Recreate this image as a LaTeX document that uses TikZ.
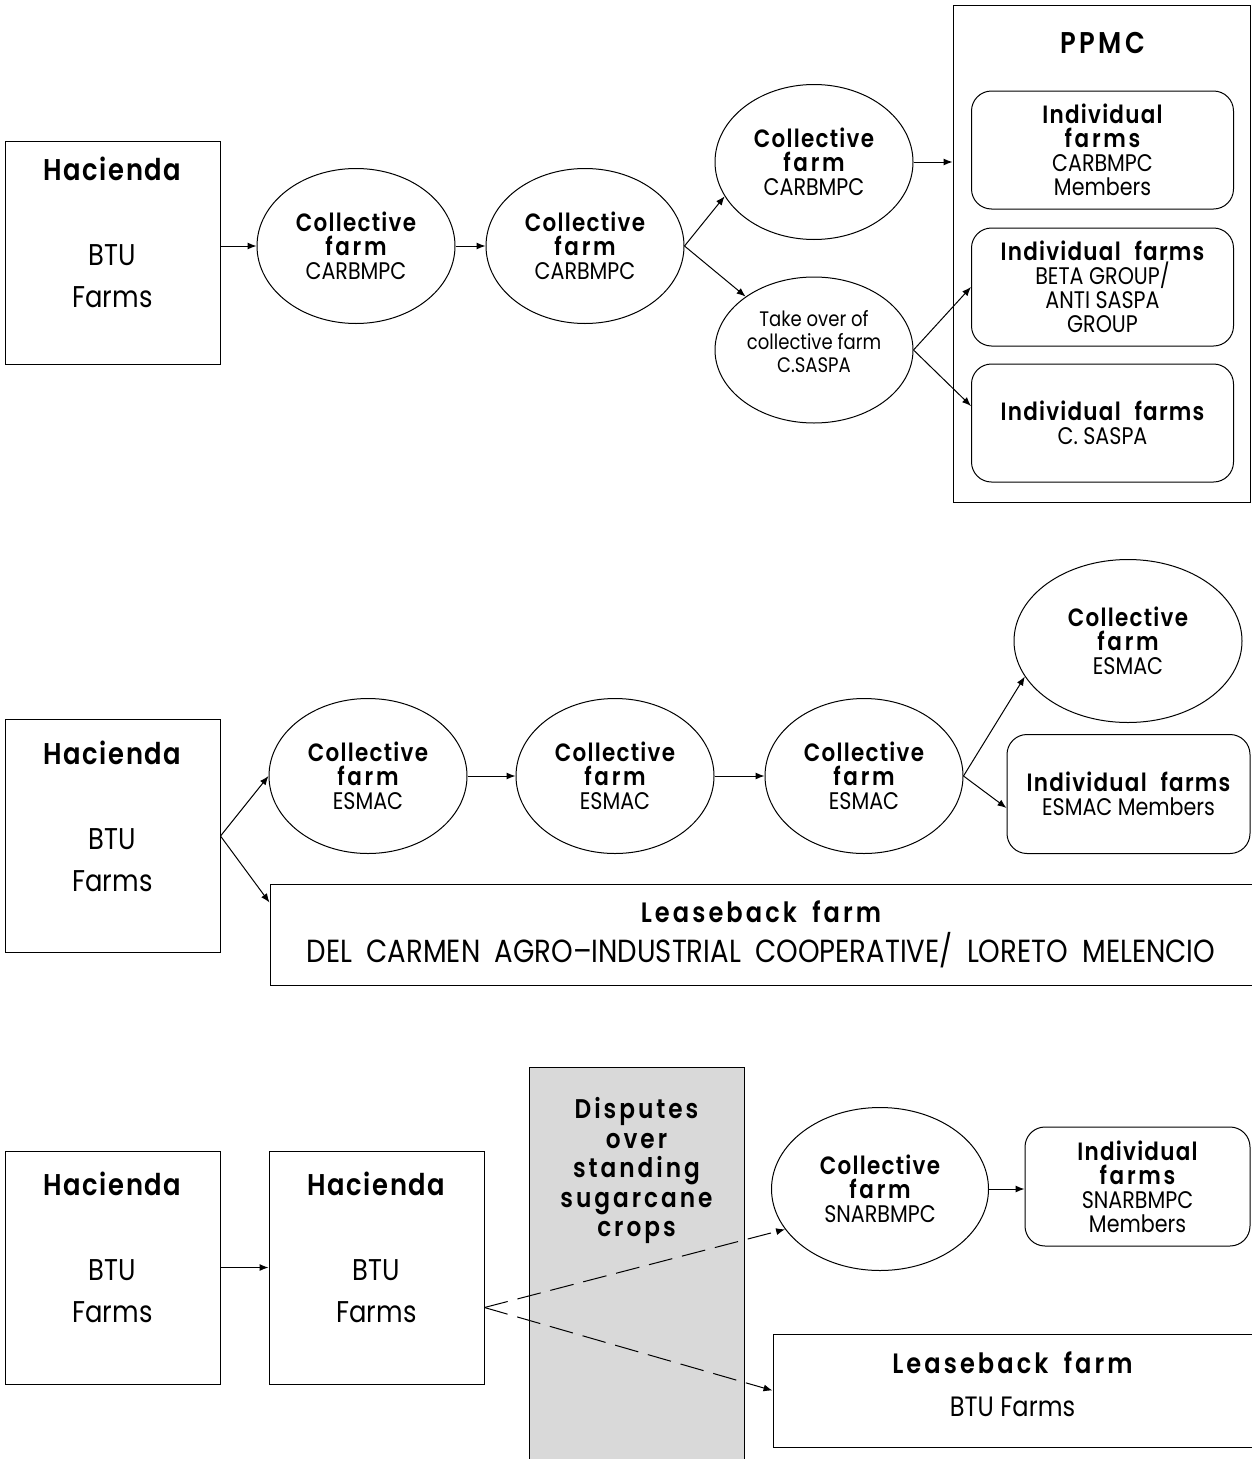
\documentclass[tikz,border=0pt]{standalone}
\usepackage{fontspec}
\setmainfont{Poppins}[FakeStretch=0.86, BoldFont={Poppins SemiBold}]
\usepackage{tikz}
\usetikzlibrary{arrows.meta, positioning, shapes.geometric}

\definecolor{disputegray}{RGB}{217,217,217}

\newcommand{\bt}[1]{{\bfseries\addfontfeature{LetterSpace=5}\spaceskip=0.55em\relax #1}}
\newcommand{\bw}[1]{{\bfseries\addfontfeature{LetterSpace=11}\spaceskip=0.55em\relax #1}}
\newcommand{\rt}[1]{{\fontsize{24}{24}\selectfont #1}}
\newcommand{\bl}[1]{{\fontsize{28}{40}\selectfont\bfseries\addfontfeature{LetterSpace=11}\spaceskip=0.55em\relax #1}}

\begin{document}
\begin{tikzpicture}[
    x=1pt, y=-1pt, line width=1pt,
    hacienda/.style={rectangle, draw=black, minimum width=215pt, minimum height=233pt, inner sep=0pt, align=center, font=\fontsize{30}{42}\selectfont},
    collective/.style={ellipse, draw=black, minimum width=198pt, minimum height=155pt, inner sep=0pt, align=center, font=\fontsize{25}{24}\selectfont},
    individual/.style={rectangle, draw=black, rounded corners=20pt, minimum width=262pt, minimum height=118pt, inner sep=0pt, align=center, font=\fontsize{25}{24}\selectfont},
    leaseback/.style={rectangle, draw=black, inner sep=0pt, align=center, font=\fontsize{32}{40}\selectfont},
    ppmcframe/.style={rectangle, draw=black, inner sep=0pt},
    dispute/.style={rectangle, draw=black, fill=disputegray, inner sep=0pt},
    arrow/.style={-{Latex[length=9pt, width=7pt]}},
    darrow/.style={-{Latex[length=9pt, width=7pt]}, dash pattern=on 24pt off 10pt},
  ]
  \useasboundingbox (0,0) rectangle (1251,1459);

  % CARBMPC
  \node[hacienda, minimum height=223pt] (h1) at (112.5,252.5) {\bt{Hacienda}\\[43pt]BTU\\Farms\\[-2pt]};
  \node[collective] (c1) at (356,246) {\bt{Collective}\\\bw{farm}\\\rt{CARBMPC}};
  \node[collective, right=30pt of c1] (c2) {\bt{Collective}\\\bw{farm}\\\rt{CARBMPC}};
  \node[collective] (c3) at (814,162) {\bt{Collective}\\\bw{farm}\\\rt{CARBMPC}};
  \node[collective, minimum height=146pt, font=\fontsize{21}{23}\selectfont] (c4) at (814,350) {Take over of\\collective farm\\C.SASPA\\[-5pt]};

  % PPMC
  \node[ppmcframe, minimum width=297pt, minimum height=497pt] (ppmc) at (1101.5,253.5) {};
  \node[font=\fontsize{30}{30}\selectfont] (ppmctitle) at (1103,43) {\bw{PPMC}};
  \node[individual] (i1) at (1102.5,150) {\bt{Individual}\\\bw{farms}\\\rt{CARBMPC}\\\rt{Members}};
  \node[individual] (i2) at (1102.5,287) {\bt{Individual farms}\\\rt{BETA GROUP/}\\\rt{ANTI SASPA}\\\rt{GROUP}};
  \node[individual] (i3) at (1102.5,423) {\bt{Individual farms}\\\rt{C. SASPA}};

  \draw[arrow] (h1.east |- c1.west) -- (c1.west);
  \draw[arrow] (c1) -- (c2);
  \draw[arrow] (c2.east) -- (c3.201);
  \draw[arrow] (c2.east) -- (c4.142);
  \draw[arrow] (c3.east) -- (c3.east -| ppmc.west);
  \draw[arrow] (c4.east) -- (i2.west);
  \draw[arrow] (c4.east) -- ([yshift=17pt]i3.west);

  % ESMAC
  \node[hacienda] (h2) at (112.5,836) {\bt{Hacienda}\\[43pt]BTU\\Farms\\[-2pt]};
  \node[collective] (e1) at (368,776) {\bt{Collective}\\\bw{farm}\\\rt{ESMAC}};
  \node[collective, right=48pt of e1] (e2) {\bt{Collective}\\\bw{farm}\\\rt{ESMAC}};
  \node[collective, right=50pt of e2] (e3) {\bt{Collective}\\\bw{farm}\\\rt{ESMAC}};
  \node[collective, minimum width=228pt, minimum height=163pt] (e4) at (1128,641) {\bt{Collective}\\\bw{farm}\\\rt{ESMAC}};
  \node[individual, minimum width=243pt, minimum height=119pt] (i4) at (1128.5,794) {\bt{Individual farms}\\\rt{ESMAC Members}};
  \node[leaseback, minimum width=982pt, minimum height=101pt] (l1) at (761,934.5) {\bl{Leaseback farm}\\{\spaceskip=0.45em\relax DEL CARMEN AGRO--INDUSTRIAL COOPERATIVE/ LORETO MELENCIO}};

  \draw[arrow] (h2.east) -- (e1.west);
  \draw[arrow] (h2.east) -- ([yshift=-19pt]l1.north west);
  \draw[arrow] (e1) -- (e2);
  \draw[arrow] (e2) -- (e3);
  \draw[arrow] (e3.east) -- (e4.199);
  \draw[arrow] (e3.east) -- ([yshift=-14pt]i4.west);

  % SNARBMPC
  \node[hacienda] (h3) at (112.5,1267.5) {\bt{Hacienda}\\[43pt]BTU\\Farms\\[-2pt]};
  \node[hacienda, right=48pt of h3] (h4) {\bt{Hacienda}\\[43pt]BTU\\Farms\\[-2pt]};
  \node[dispute, anchor=north, minimum width=215pt, minimum height=420pt] (dsp) at (636.5,1067) {};
  \node[below=30pt of dsp.north, inner sep=0pt, align=center, font=\fontsize{27}{29.5}\selectfont] (dsptext) {\bw{Disputes}\\\bw{over}\\\bw{standing}\\\bw{sugarcane}\\\bw{crops}};
  \node[collective, minimum width=217pt, minimum height=163pt] (c5) at (880,1189) {\bt{Collective}\\\bw{farm}\\\rt{SNARBMPC}};
  \node[individual, minimum width=225pt, minimum height=119pt] (i5) at (1137.5,1186.5) {\bt{Individual}\\\bw{farms}\\\rt{SNARBMPC}\\\rt{Members}};
  \node[leaseback, minimum width=479pt, minimum height=113pt, font=\fontsize{28}{43}\selectfont] (l2) at (1012.5,1390.5) {\bl{Leaseback farm}\\BTU Farms\\[-31pt]};

  \draw[arrow] (h3) -- (h4);
  \coordinate (split) at ([yshift=-40pt]h4.east);
  \draw[darrow] (split) -- (c5.203);
  \draw[darrow] (split) -- (l2.west);
  \draw[arrow] (c5.east) -- (c5.east -| i5.west);

\end{tikzpicture}
\end{document}
